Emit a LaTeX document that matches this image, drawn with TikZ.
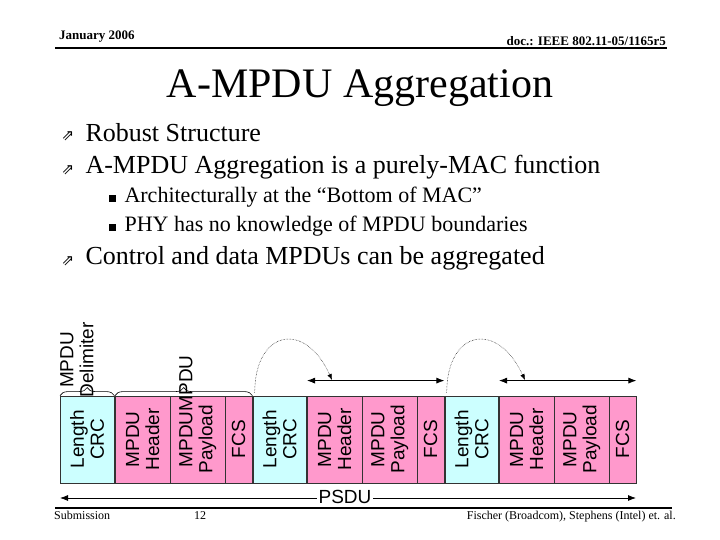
\documentclass[tikz,border=0pt]{standalone}
\usepackage{fontspec}
\setmainfont{Liberation Serif}
\newfontfamily\dsans{DejaVu Sans}
\newfontfamily\lsans{Liberation Sans}
\usetikzlibrary{decorations.pathreplacing,arrows.meta}
\definecolor{cy}{RGB}{204,255,255}
\definecolor{pk}{RGB}{255,153,204}
\tikzset{
 fld/.style={draw=black!80,line width=0.4pt,minimum height=87pt,inner sep=0pt,anchor=south west},
 lbl/.style={rotate=90,font=\lsans\fontsize{19}{20}\selectfont,align=center},
 brc/.style={decorate,decoration={brace,amplitude=8pt},line width=0.6pt},
 dbl/.style={{Latex[length=8pt]}-{Latex[length=8pt]},line width=0.8pt},
 arc/.style={densely dotted,line width=0.5pt,-{Latex[length=6pt]}},
 bul/.style={anchor=west,font=\fontsize{26}{28}\selectfont},
 sbul/.style={anchor=west,font=\fontsize{22}{24}\selectfont},
}
\begin{document}
\begin{tikzpicture}[x=1pt,y=-1pt]
\useasboundingbox (0,0) rectangle (720,540);
% header/footer
\node (date) [anchor=south west,font=\bfseries\fontsize{13}{14}\selectfont,inner sep=1pt] at (58,44) {January 2006};
\node (doc) [anchor=south east,font=\bfseries\fontsize{13}{14}\selectfont,inner sep=1pt] at (667,47) {doc.: IEEE 802.11-05/1165r5};
\draw[line width=1.5pt] (55,48) -- (667,48);
\draw[line width=1.5pt] (55,508) -- (672,508);
\node (sub) [anchor=north west,font=\fontsize{12}{13}\selectfont,inner sep=1pt] at (53,510) {Submission};
\node (pg) [anchor=north,font=\fontsize{12}{13}\selectfont,inner sep=1pt] at (200,510) {12};
\node (auth) [anchor=north east,font=\fontsize{12}{13}\selectfont,inner sep=1pt] at (677,510) {Fischer (Broadcom), Stephens (Intel) et. al.};
% title
\node (title) [font=\fontsize{42}{44}\selectfont] at (360,88) {A-MPDU Aggregation};
% bullets
\foreach \y/\t [count=\i] in {133/Robust Structure,167/A-MPDU Aggregation is a purely-MAC function,258/Control and data MPDUs can be aggregated}{
 \node (bm\i) [font=\dsans\fontsize{15}{16}\selectfont] at (68,\y+3) {⇗};
 \node (b\i) [bul] at (82,\y) {\t};
}
\node (s1) [sbul] at (115,197) {\rlap{\hspace{-10pt}\rule{7pt}{7pt}}\hspace{6pt}Architecturally at the “Bottom of MAC”};
\node (s2) [sbul] at (115,226) {\rlap{\hspace{-10pt}\rule{7pt}{7pt}}\hspace{6pt}PHY has no knowledge of MPDU boundaries};
% fields
\def\fb{483}
\foreach \x/\w/\c/\t [count=\i] in {
 60/54/cy/{Length\\CRC},115/55/pk/{MPDU\\Header},170/55/pk/{MPDU\\Payload},225/27/pk/{FCS},
 253/53/cy/{Length\\CRC},307/55/pk/{MPDU\\Header},362/55/pk/{MPDU\\Payload},417/27/pk/{FCS},
 445/53/cy/{Length\\CRC},499/55/pk/{MPDU\\Header},554/55/pk/{MPDU\\Payload},609/27/pk/{FCS}}{
 \node (f\i) [fld,fill=\c,draw=\ifx\c cy cy\else black!80\fi,minimum width=\w pt] at (\x,\fb) {};
 \node (t\i) [lbl] at (f\i.center) {\t};
}
% braces
\draw[brc] (f1.north west) -- (f1.north east) coordinate[midway] (bc1);
\draw[brc] (f2.north west) -- (f4.north east) coordinate[midway] (bc2);
\node (dl) [lbl,anchor=south,yshift=-10pt] at (bc1 |- 0,360) {MPDU\\Delimiter};
\node (ml) [lbl,anchor=east] at (186,352) {MPDU};
% double arrows
\draw[dbl] (f6.north west)++(0,-15) coordinate (a1) -- (f8.north east|-a1) coordinate (a2);
\draw[dbl] (f10.north west)++(0,-15) coordinate (c1) -- (f12.north east|-c1) coordinate (c2);
\coordinate (p1) at (332,380);
\coordinate (p2) at (525,380);
\draw[arc] (f5.north)++(-25,-3) .. controls (255,330) and (305,320) .. (p1);
\draw[arc] (f9.north)++(-25,-3) .. controls (447,330) and (497,320) .. (p2);
% PSDU
\coordinate (ps1) at (60,498);
\coordinate (ps2) at (636,498);
\draw[dbl] (ps1) -- (ps2);
\node (psdu) [fill=white,font=\lsans\fontsize{19}{20}\selectfont,inner sep=2pt] at (345,497) {PSDU};
\end{tikzpicture}
\end{document}
